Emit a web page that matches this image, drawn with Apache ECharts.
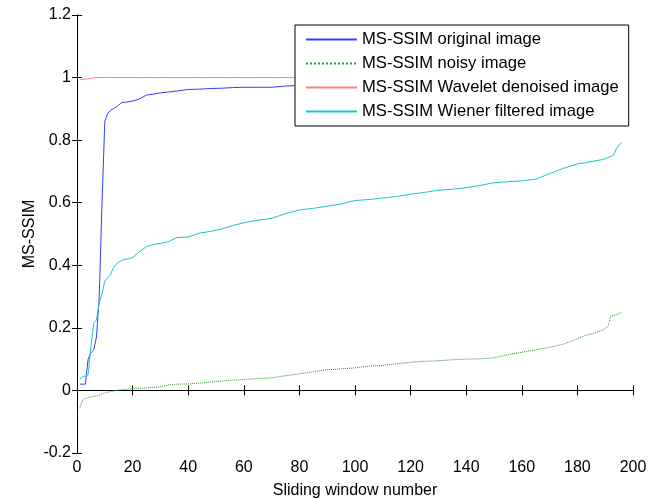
<!DOCTYPE html>
<html>
<head>
<meta charset="utf-8">
<script src="https://cdn.jsdelivr.net/npm/echarts@6/dist/echarts.min.js"></script>
<style>
html, body { margin: 0; padding: 0; background: #fff; }
#chart { width: 659px; height: 499px; }
</style>
</head>
<body>
<div id="chart"></div>
<script>
// sample positions (sliding window number)
const windowNo = [1,2,3,4,5,6,7,8,9,10,11,12,13,14,15,16,17,18,20,22,25,28,30,33,36,40,44,48,52,56,60,65,70,75,80,85,90,95,100,105,110,115,120,125,130,135,140,145,150,155,160,165,170,175,178,180,183,186,189,191,192,193,194,195,196]

// MS-SSIM values
const original = [0.02,0.02,0.02,0.1,0.12,0.13,0.17,0.3,0.6,0.86,0.885,0.895,0.9,0.905,0.912,0.92,0.921,0.922,0.925,0.93,0.944,0.948,0.951,0.954,0.957,0.962,0.963,0.965,0.966,0.968,0.969,0.969,0.969,0.973,0.975,0.977,0.979,0.98,0.981,0.982,0.983,0.984,0.985,0.985,0.986,0.986,0.987,0.987,0.988,0.988,0.989,0.989,0.99,0.99,0.99,0.991,0.991,0.991,0.992,0.992,0.992,0.993,0.993,0.993,0.994]
const noisy = [-0.057,-0.031,-0.026,-0.023,-0.021,-0.02,-0.018,-0.015,-0.01,-0.008,-0.006,-0.004,-0.002,0.0,0.001,0.002,0.003,0.004,0.006,0.007,0.008,0.01,0.012,0.018,0.02,0.021,0.023,0.027,0.03,0.033,0.035,0.038,0.04,0.047,0.053,0.06,0.066,0.069,0.072,0.078,0.08,0.085,0.09,0.093,0.095,0.098,0.1,0.101,0.104,0.114,0.122,0.13,0.138,0.148,0.158,0.165,0.176,0.183,0.192,0.205,0.236,0.24,0.242,0.246,0.25]
const wavelet = [0.993,0.994,0.995,0.996,0.997,0.999,1,1,1,1,1,1,1,1,1,1,1,1,1,1,1,1,1,1,1,1,1,1,1,1,1,1,1,1,1,1,1,1,1,1,1,1,1,1,1,1,1,1,1,1,1,1,1,1,1,1,1,1,1,1,1,1,1,1,1]
const wiener = [0.035,0.044,0.046,0.05,0.14,0.215,0.225,0.28,0.31,0.35,0.36,0.37,0.39,0.403,0.41,0.415,0.419,0.419,0.425,0.44,0.46,0.467,0.47,0.476,0.489,0.49,0.503,0.508,0.516,0.527,0.536,0.544,0.55,0.565,0.577,0.582,0.589,0.596,0.607,0.61,0.615,0.62,0.627,0.633,0.64,0.643,0.648,0.655,0.664,0.667,0.67,0.675,0.693,0.71,0.718,0.724,0.728,0.733,0.738,0.744,0.748,0.752,0.772,0.785,0.793]

const seriesNames = ['MS-SSIM original image','MS-SSIM noisy image','MS-SSIM Wavelet denoised image','MS-SSIM Wiener filtered image']

const font = 'Liberation Sans'

function pairs(vals){
	return windowNo.map(function(x, i){ return [x, vals[i]] })
}

function mkLine(name, vals, color, type){
	return {
		name: name,
		type: 'line',
		data: pairs(vals),
		symbol: 'none',
		lineStyle: { color: color, width: 1, type: type || 'solid' },
		itemStyle: { color: color },
		z: 2
	}
}

const myChart = echarts.init(document.getElementById('chart'))

const boxAxis = {
	axisLine: { show: true, lineStyle: { color: '#000', width: 1 } },
	axisTick: { show: true, inside: true, length: 5, lineStyle: { color: '#000' } },
	splitLine: { show: false }
}

let option = {
	animation: false,
	backgroundColor: '#fff',
	grid: { left: 77, right: 26, top: 15, bottom: 46, outerBoundsMode: 'none', containLabel: false },
	legend: {
		orient: 'vertical',
		left: 295,
		top: 25,
		data: seriesNames,
		backgroundColor: '#fff',
		borderColor: '#000',
		borderWidth: 1,
		padding: [6, 10, 6, 10],
		itemWidth: 51,
		itemHeight: 14,
		itemGap: 7,
		z: 10,
		itemStyle: { opacity: 0 },
		textStyle: { fontFamily: font, fontSize: 16.6, color: '#000' }
	},
	xAxis: [
		Object.assign({
			type: 'value', min: 0, max: 200, interval: 20,
			name: 'Sliding window number', nameLocation: 'middle', nameGap: 30,
			nameMoveOverlap: false,
			nameTextStyle: { fontFamily: font, fontSize: 16, color: '#000' },
			axisLabel: { fontFamily: font, fontSize: 16, color: '#000', margin: 7 }
		}, boxAxis),
		Object.assign({
			type: 'value', min: 0, max: 200, interval: 20, position: 'top',
			axisLabel: { show: false }
		}, boxAxis)
	],
	yAxis: [
		Object.assign({
			type: 'value', min: -0.2, max: 1.2, interval: 0.2,
			name: 'MS-SSIM', nameLocation: 'middle', nameGap: 39,
			nameMoveOverlap: false,
			nameTextStyle: { fontFamily: font, fontSize: 16, color: '#000' },
			axisLabel: {
				fontFamily: font, fontSize: 16, color: '#000', margin: 6,
				formatter: function(v){ return String(+v.toFixed(1)) }
			}
		}, boxAxis),
		Object.assign({
			type: 'value', min: -0.2, max: 1.2, interval: 0.2, position: 'right',
			axisLabel: { show: false }
		}, boxAxis)
	],
	series: [
		mkLine(seriesNames[0], original, '#3a3aff'),
		mkLine(seriesNames[1], noisy, '#2e962e', 'dotted'),
		mkLine(seriesNames[2], wavelet, '#ff8080'),
		mkLine(seriesNames[3], wiener, '#1ec4c4')
	]
}

myChart.setOption(option)
</script>
</body>
</html>
